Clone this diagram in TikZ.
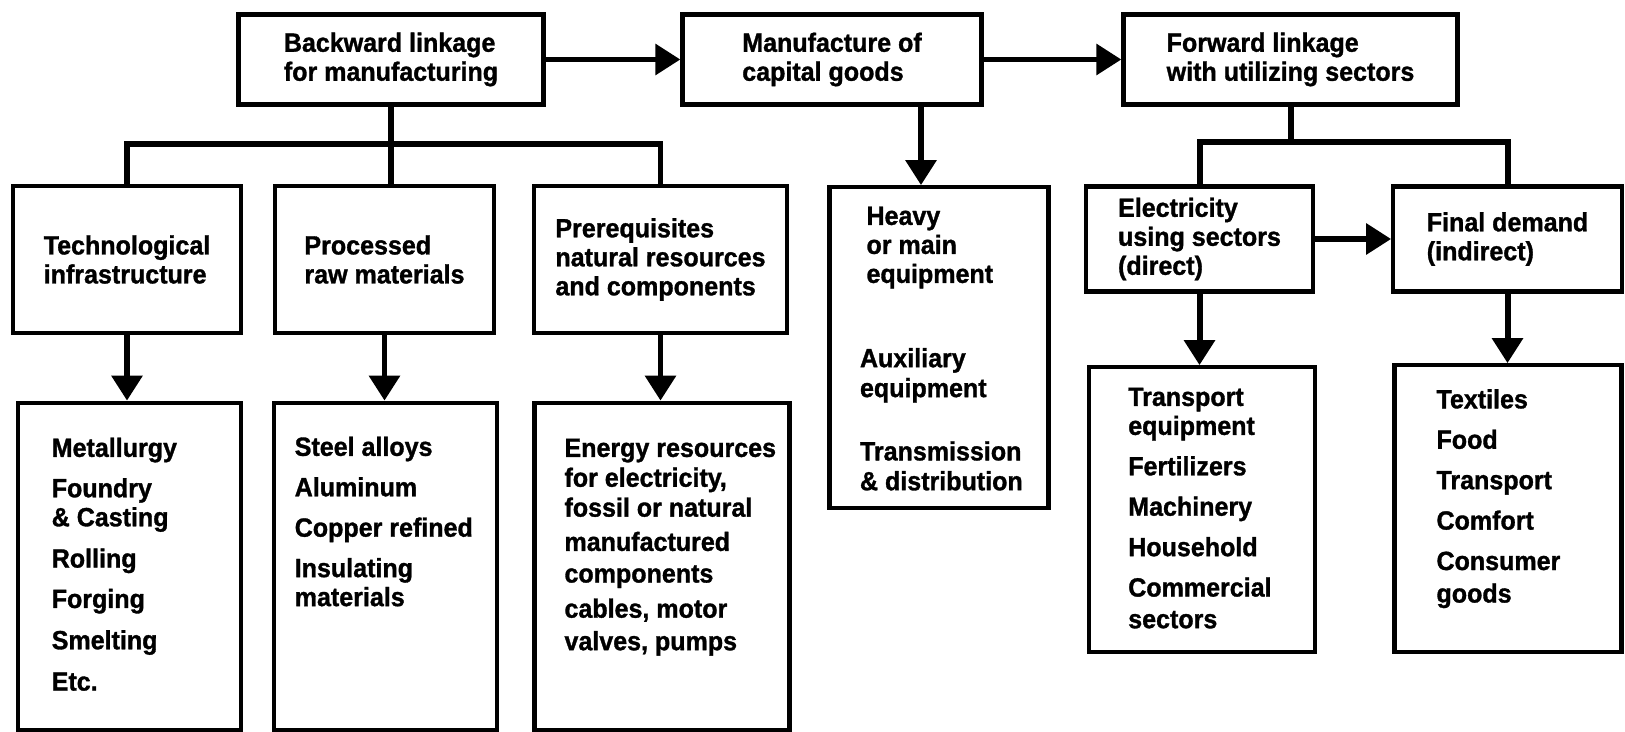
\documentclass[tikz,border=0pt]{standalone}
\usepackage{fontspec}
\setmainfont{Liberation Sans}[FakeStretch=0.95,BoldFeatures={FakeBold=1.2}]
\usetikzlibrary{arrows.meta}
% top-aligned text for the tall boxes: width, height, indent, lines
\newcommand{\listtext}[4]{\parbox[c][#2][t]{#1}{\raggedright\leftskip=#3\relax #4}}

\begin{document}
\begin{tikzpicture}[
  >={Triangle[length=0.5cm,width=0.6cm]},
  box/.style={
    draw,
    line width=2.4pt,
    align=left,
    inner sep=0pt,
    font=\bfseries\fontsize{15pt}{16.5pt}\selectfont
  },
  listbox/.style={
    draw,
    line width=2.4pt,
    inner sep=0pt,
    font=\bfseries\fontsize{15pt}{16.5pt}\selectfont
  },
  link/.style={line width=3.4pt},
  arrow/.style={->,line width=3.4pt}
]
  \useasboundingbox (0,0) rectangle (32.5,-14.64);

  % top row
  \node[box,minimum width=6.1cm,minimum height=1.8cm] (backward) at (7.82,-1.19) {Backward linkage\\for manufacturing};
  \node[box,minimum width=5.98cm,minimum height=1.8cm] (manuf) at (16.64,-1.19) {Manufacture of\\capital goods};
  \node[box,minimum width=6.68cm,minimum height=1.8cm] (forward) at (25.81,-1.19) {Forward linkage\\with utilizing sectors};

  % second row
  \node[box,minimum width=4.55cm,minimum height=2.95cm] (tech) at (2.54,-5.19) {Technological\\infrastructure};
  \node[box,minimum width=4.39cm,minimum height=2.95cm] (processed) at (7.69,-5.19) {Processed\\raw materials};
  \node[box,minimum width=5.07cm,minimum height=2.95cm] (prereq) at (13.21,-5.19) {Prerequisites\\natural resources\\and components};
  \node[listbox,minimum height=6.41cm] (heavy) at (18.78,-6.95)
    {\listtext{4.38cm}{5.63cm}{0.61cm}{\hspace*{0.13cm}Heavy\\\hspace*{0.13cm}or main\\\hspace*{0.13cm}equipment\\[31.5pt]Auxiliary\\[0.5pt]equipment\\[19.5pt]Transmission\\[0.5pt]\& distribution}};
  \node[box,minimum width=4.55cm,minimum height=2.1cm] (elec) at (23.99,-4.78) {Electricity\\using sectors\\(direct)};
  \node[box,minimum width=4.57cm,minimum height=2.1cm] (final) at (30.15,-4.78) {Final demand\\(indirect)};

  % third row
  \node[listbox,minimum height=6.55cm] (metal) at (2.59,-11.33)
    {\listtext{4.45cm}{5.15cm}{0.67cm}{Metallurgy\\[6.5pt]Foundry\\\& Casting\\[7pt]Rolling\\[6.5pt]Forging\\[7pt]Smelting\\[7pt]Etc.}};
  \node[listbox,minimum height=6.55cm] (steel) at (7.71,-11.33)
    {\listtext{4.45cm}{5.19cm}{0.41cm}{Steel alloys\\[6.5pt]Aluminum\\[6.5pt]Copper refined\\[6.5pt]Insulating\\materials}};
  \node[listbox,minimum height=6.55cm] (energy) at (13.24,-11.33)
    {\listtext{5.10cm}{5.11cm}{0.60cm}{Energy resources\\[0.5pt]for electricity,\\[0.5pt]fossil or natural\\[3pt]manufactured\\[1.5pt]components\\[3.5pt]cables, motor\\[2pt]valves, pumps}};
  \node[listbox,minimum height=5.69cm] (transport) at (24.04,-10.19)
    {\listtext{4.51cm}{4.87cm}{0.78cm}{Transport\\equipment\\[6.5pt]Fertilizers\\[6.5pt]Machinery\\[6.5pt]Household\\[6.5pt]Commercial\\[1.5pt]sectors}};
  \node[listbox,minimum height=5.73cm] (textiles) at (30.16,-10.17)
    {\listtext{4.54cm}{4.77cm}{0.84cm}{Textiles\\[6.5pt]Food\\[6.5pt]Transport\\[6.5pt]Comfort\\[6.5pt]Consumer\\[2pt]goods}};

  \coordinate (bbar) at (0,-2.88);
  \coordinate (fbar) at (0,-2.84);
  \coordinate (hx) at (18.42,0);

  % linkage along the top
  \draw[arrow] (backward.east) -- (manuf.west);
  \draw[arrow] (manuf.east) -- (forward.west);
  \draw[arrow] (manuf.south -| hx) -- (heavy.north -| hx);

  % backward branches
  \draw[link] (tech.north) -- (tech.north |- bbar) -- (prereq.north |- bbar) -- (prereq.north);
  \draw[link] (backward.south) -- (backward.south |- processed.north);
  \draw[arrow] (tech.south) -- (tech.south |- metal.north);
  \draw[arrow] (processed.south) -- (processed.south |- steel.north);
  \draw[arrow] (prereq.south) -- (prereq.south |- energy.north);

  % forward branches
  \draw[link] (forward.south) -- (forward.south |- fbar);
  \draw[link] (elec.north) -- (elec.north |- fbar) -- (final.north |- fbar) -- (final.north);
  \draw[arrow] (elec.east) -- (final.west);
  \draw[arrow] (elec.south) -- (elec.south |- transport.north);
  \draw[arrow] (final.south) -- (final.south |- textiles.north);
\end{tikzpicture}
\end{document}
